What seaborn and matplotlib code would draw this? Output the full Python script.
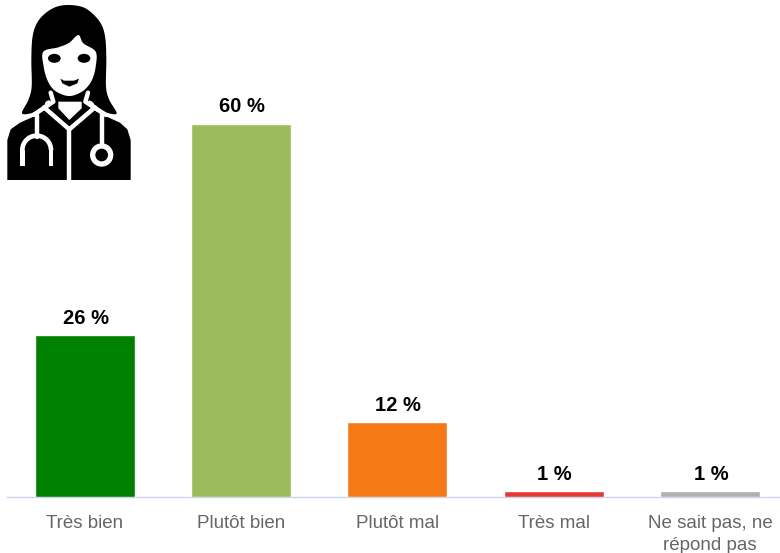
import numpy as np
import pandas as pd
import seaborn as sns
import matplotlib
matplotlib.use("Agg")
import matplotlib.pyplot as plt
from matplotlib.patches import Polygon, Ellipse, Circle, Wedge

categories = ["Très bien", "Plutôt bien", "Plutôt mal", "Très mal", "Ne sait pas, ne\nrépond pas"]
values = [26, 60, 12, 1, 1]
colors = ["#008000", "#9CBB5A", "#F57A16", "#E53935", "#B0B0B0"]

sns.set_theme(style="white")
plt.rcParams["font.family"] = ["Liberation Sans", "DejaVu Sans"]

W, H = 780, 553
fig = plt.figure(figsize=(W / 100, H / 100), dpi=100, facecolor="white")
base = 497.0
ax = fig.add_axes([6.7 / W, (H - base) / H, 773.3 / W, base / H])
df = pd.DataFrame({"cat": categories, "val": values})
sns.barplot(data=df, x="cat", y="val", hue="cat", palette=colors, dodge=False, saturation=1,
            legend=False, width=0.64, edgecolor="white", linewidth=1.0, ax=ax, zorder=3)
ax.set_xlim(-0.499, 4.448)
ax.set_ylim(0, base / 6.225)
ax.set_xlabel("")
ax.set_ylabel("")
ax.set_yticks([])
for s in ["top", "left", "right"]:
    ax.spines[s].set_visible(False)
ax.spines["bottom"].set_color("#CCD6EB")
ax.spines["bottom"].set_linewidth(1.0)
ax.spines["bottom"].set_zorder(1)
ax.tick_params(axis="x", length=0, pad=13.2, labelsize=13.5, labelcolor="#666666")
for lab in ax.get_xticklabels():
    lab.set_linespacing(1.38)
    lab.set_clip_on(False)
for i, v in enumerate(values):
    ax.annotate(f"{v} %", xy=(i, v), xytext=(0.7, 5.2), textcoords="offset points",
                ha="center", va="bottom", fontsize=14.5, fontweight="bold", color="black")


def smooth(pts, n=8):
    """Closed Catmull-Rom curve through the outline points of the pictogram."""
    p = np.array(pts, float)
    out = []
    m = len(p)
    for i in range(m):
        p0, p1, p2, p3 = p[i - 1], p[i], p[(i + 1) % m], p[(i + 2) % m]
        for t in np.linspace(0, 1, n, endpoint=False):
            out.append(0.5 * (2 * p1 + (p2 - p0) * t + (2 * p0 - 5 * p1 + 4 * p2 - p3) * t ** 2
                              + (3 * p1 - p0 - 3 * p2 + p3) * t ** 3))
    return np.array(out)


# Doctor pictogram, drawn in reference pixel space (zoomed coords / 3)
ic = fig.add_axes([0, 0, 1, 1], facecolor="none")
ic.set_xlim(0, W * 3)
ic.set_ylim(H * 3, 0)
ic.axis("off")
K, Wh = "black", "white"
hair = [(205,15),(165,22),(130,45),(108,75),(97,115),(94,180),(95,260),(85,300),(66,340),(100,338),
        (130,322),(150,300),(262,300),(290,322),(320,338),(350,340),(328,300),(318,260),(319,180),
        (316,115),(305,75),(282,45),(250,22)]
ic.add_patch(Polygon(smooth(hair), fc=K, ec="none"))
body = [(22,540),(22,420),(32,388),(60,368),(105,348),(125,335),(148,350),(205,390),(262,350),(290,335),
        (320,350),(360,368),(382,388),(392,420),(392,540)]
ic.add_patch(Polygon(body, fc=K, ec="none"))
collar = [(148,285),(150,318),(125,335),(205,392),(290,335),(265,318),(268,285)]
ic.add_patch(Polygon(collar, fc=K, ec="none"))
ic.add_patch(Polygon([(175,305),(245,305),(245,325),(208,360),(175,325)], fc=Wh, ec="none"))
# collar and lapel lines
ic.plot([152,160,100],[278,305,345], color=Wh, lw=3.2, solid_joinstyle="round")
ic.plot([264,256,318],[278,305,345], color=Wh, lw=3.2, solid_joinstyle="round")
ic.plot([132,208,285],[322,388,322], color=Wh, lw=3.2, solid_joinstyle="miter")
ic.plot([208,208],[388,542], color=Wh, lw=3.2)
face = [(130,155),(175,142),(208,128),(235,105),(250,130),(287,155),(287,200),(276,240),(255,268),
        (230,283),(208,288),(185,283),(160,268),(142,240),(131,200)]
ic.add_patch(Polygon(smooth(face), fc=Wh, ec="none"))
ic.add_patch(Ellipse((163,175), 38, 27, fc=K, ec="none"))
ic.add_patch(Ellipse((252,175), 38, 27, fc=K, ec="none"))
ic.add_patch(Polygon([(181,236),(192,242),(222,242),(237,236),(232,250),(208,260),(187,250)], fc=K, ec="none"))
# stethoscope
ic.plot([110,110],[345,410], color=Wh, lw=3.2)
ic.add_patch(Wedge((110,450), 50, 180, 360, width=14, fc=Wh, ec="none"))
ic.add_patch(Polygon([(60,450),(74,450),(74,498),(60,498)], fc=Wh, ec="none"))
ic.add_patch(Polygon([(146,450),(160,450),(160,498),(146,498)], fc=Wh, ec="none"))
ic.plot([305,305],[338,435], color=Wh, lw=3.2)
ic.add_patch(Circle((305,465), 35, fc=Wh, ec="none"))
ic.add_patch(Circle((305,465), 19, fc=K, ec="none"))

fig.savefig("out.png", dpi=100)
